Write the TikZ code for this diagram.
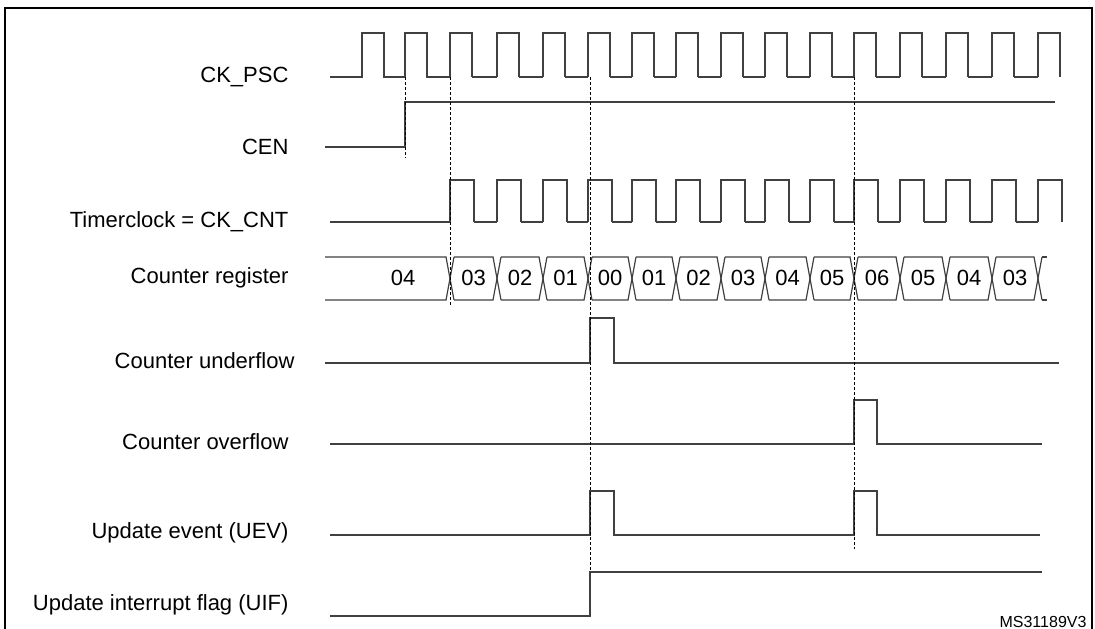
\documentclass[tikz,border=0pt]{standalone}
\usepackage{fontspec}
\setmainfont{Liberation Sans}
\begin{document}
\begin{tikzpicture}[x=1pt,y=-1pt,
  sig/.style={line width=1.2pt,draw=black!75},
  dsh/.style={line width=0.9pt,dashed,dash pattern=on 3pt off 2pt},
  lbl/.style={anchor=east,font=\fontsize{22}{26}\selectfont},
  val/.style={font=\fontsize{22}{26}\selectfont}]
\useasboundingbox (0,0) rectangle (1095,629);
\draw[line width=2pt] (5,640) -- (5,8) -- (1092,8) -- (1092,640);
% labels
\node[lbl] (l1) at (292,77) {CK\_PSC};
\node[lbl] (l2) at (292,147) {CEN};
\node[lbl] (l3) at (292,222) {Timerclock = CK\_CNT};
\node[lbl] (l4) at (292,278) {Counter register};
\node[lbl] (l5) at (298,361) {Counter underflow};
\node[lbl] (l6) at (292,442) {Counter overflow};
\node[lbl] (l7) at (292,533) {Update event (UEV)};
\node[lbl] (l8) at (292,605) {Update interrupt flag (UIF)};
\node[anchor=south east,font=\fontsize{16}{18}\selectfont] (ms) at (1090,631) {MS31189V3};
% CK_PSC
\def\edges{450,497,543,588,632,676,721,765,810,854,900,946,992,1038}
\draw[sig] (330,77) -- (362,77) -- (362,33) -- (384,33) -- (384,77) -- (405,77) -- (405,33) -- (427,33) -- (427,77) -- (450,77);
\foreach \e in \edges { \draw[sig] (\e,77) -- (\e,33) -- (\e+22,33) -- (\e+22,77); }
\foreach \a/\b in {450/497,497/543,543/588,588/632,632/676,676/721,721/765,765/810,810/854,854/900,900/946,946/992,992/1038} { \draw[sig] (\a+22,77) -- (\b,77); }
% CEN
\draw[sig] (325,147) -- (405,147) -- (405,102) -- (1055,102);
% Timerclock
\draw[sig] (330,222) -- (450,222);
\foreach \e in \edges { \draw[sig] (\e,222) -- (\e,180) -- (\e+24,180) -- (\e+24,222); }
\foreach \a/\b in {450/497,497/543,543/588,588/632,632/676,676/721,721/765,765/810,810/854,854/900,900/946,946/992,992/1038} { \draw[sig] (\a+24,222) -- (\b,222); }
% Counter register
\draw[sig] (325,257) -- (446,257) -- (454,300);
\draw[sig] (325,300) -- (446,300) -- (454,257);
\node[val] (v0) at (403,278) {04};
\foreach \a/\b/\v in {450/497/03,497/543/02,543/588/01,588/632/00,632/676/01,676/721/02,721/765/03,765/810/04,810/854/05,854/900/06,900/946/05,946/992/04,992/1038/03} {
  \node[val] at ({(\a+\b)/2},278) {\v};
  \draw[sig] (\a+4,257) -- (\b-4,257) -- (\b+4,300);
  \draw[sig] (\a+4,300) -- (\b-4,300) -- (\b+4,257);
}
\draw[sig] (1042,257) -- (1047,257); \draw[sig] (1042,300) -- (1047,300);
% underflow
\draw[sig] (325,363) -- (590,363) -- (590,318) -- (614,318) -- (614,363) -- (1059,363);
% overflow
\draw[sig] (330,444) -- (854,444) -- (854,400) -- (877,400) -- (877,444) -- (1042,444);
% UEV
\draw[sig] (330,535) -- (590,535) -- (590,491) -- (614,491) -- (614,535) -- (854,535) -- (854,491) -- (877,491) -- (877,535) -- (1040,535);
% UIF
\draw[sig] (330,616) -- (590,616) -- (590,572) -- (1042,572);
% dashed
\draw[dsh] (405,77) -- (405,158);
\draw[dsh] (450,77) -- (450,305);
\draw[dsh] (590,77) -- (590,572);
\draw[dsh] (854,77) -- (854,549);
\end{tikzpicture}
\end{document}
